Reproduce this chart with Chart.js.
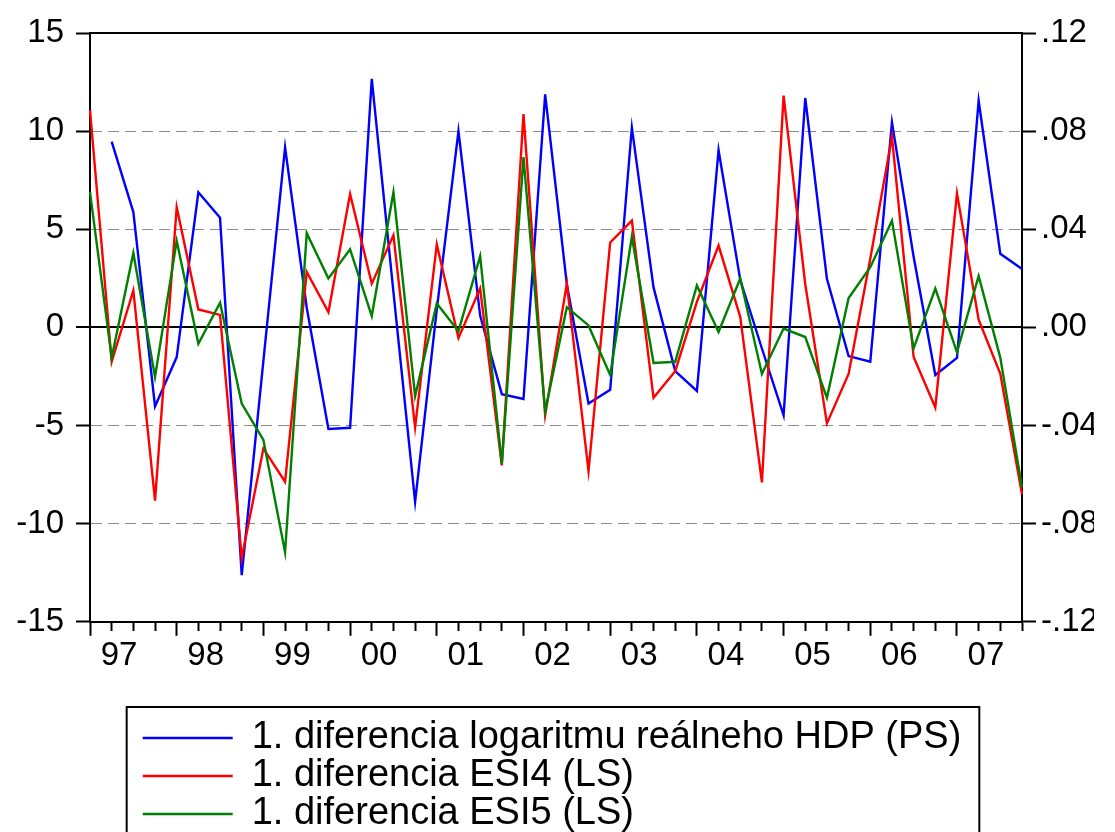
<!DOCTYPE html>
<html>
<head>
<meta charset="utf-8">
<script src="https://cdn.jsdelivr.net/npm/chart.js@4"></script>
<style>
html,body{margin:0;padding:0;background:#ffffff;overflow:hidden;}
#wrap{width:1115px;height:832px;position:relative;overflow:hidden;}
canvas{display:block;}
</style>
</head>
<body>
<div id="wrap"><canvas id="c" width="1115" height="832"></canvas></div>
<script>
// ---- data ----
const quarters = [
  '1997Q1','1997Q2','1997Q3','1997Q4','1998Q1','1998Q2','1998Q3','1998Q4',
  '1999Q1','1999Q2','1999Q3','1999Q4','2000Q1','2000Q2','2000Q3','2000Q4',
  '2001Q1','2001Q2','2001Q3','2001Q4','2002Q1','2002Q2','2002Q3','2002Q4',
  '2003Q1','2003Q2','2003Q3','2003Q4','2004Q1','2004Q2','2004Q3','2004Q4',
  '2005Q1','2005Q2','2005Q3','2005Q4','2006Q1','2006Q2','2006Q3','2006Q4',
  '2007Q1','2007Q2','2007Q3','2007Q4'
];
const yearLabels = ['97','98','99','00','01','02','03','04','05','06','07'];

// 1. diferencia logaritmu reálneho HDP (right axis)
const hdpDiff = [
  null, 0.0757, 0.0470, -0.0322, -0.0121, 0.0551, 0.0447, -0.1010,
  -0.0136, 0.0734, 0.0080, -0.0414, -0.0409, 0.1013, 0.0144, -0.0711,
  0.0072, 0.0800, 0.0048, -0.0272, -0.0292, 0.0950, 0.0176, -0.0310,
  -0.0254, 0.0815, 0.0163, -0.0178, -0.0259, 0.0722, 0.0194, -0.0086,
  -0.0358, 0.0935, 0.0198, -0.0117, -0.0140, 0.0836, 0.0288, -0.0194,
  -0.0124, 0.0924, 0.0300, 0.0238
];
// 1. diferencia ESI4 (left axis)
const esi4Diff = [
  11.07, -1.75, 1.88, -8.83, 6.12, 0.91, 0.64, -11.75,
  -6.17, -7.86, 2.82, 0.78, 6.80, 2.23, 4.70, -5.09,
  4.23, -0.54, 1.98, -7.03, 10.87, -4.47, 2.23, -7.32,
  4.33, 5.44, -3.59, -2.23, 1.30, 4.17, 0.54, -7.90,
  11.81, 2.20, -4.89, -2.37, 3.50, 9.71, -1.51, -4.08,
  6.83, 0.39, -2.37, -8.50
];
// 1. diferencia ESI5 (left axis)
const esi5Diff = [
  6.89, -1.55, 3.79, -2.52, 4.41, -0.83, 1.26, -3.88,
  -5.73, -11.46, 4.80, 2.49, 3.98, 0.58, 6.89, -3.50,
  1.22, -0.19, 3.63, -6.95, 8.68, -4.27, 1.03, 0.10,
  -2.43, 4.62, -1.81, -1.75, 2.14, -0.23, 2.49, -2.37,
  -0.06, -0.49, -3.59, 1.50, 3.07, 5.44, -1.07, 1.98,
  -1.26, 2.62, -1.55, -8.16
];
const seriesNames = [
  '1. diferencia logaritmu reálneho HDP (PS)',
  '1. diferencia ESI4 (LS)',
  '1. diferencia ESI5 (LS)'
];

// ---- styling ----
const FONT = "Arial, 'Liberation Sans', sans-serif";
const TICK_SIZE = 33;
const LEGEND_SIZE = 38;
const LINE_W = 2.4;

// pad the shorter legend entries with trailing spaces so each entry sits on its own row
const mctx = document.createElement('canvas').getContext('2d');
mctx.font = LEGEND_SIZE + 'px ' + FONT;
function padToWidth(text, target) {
  let s = text;
  while (mctx.measureText(s + ' ').width <= target + 3) s += ' ';
  return s;
}
const firstW = mctx.measureText(seriesNames[0]).width;
const legendLabels = seriesNames.map((t, i) => i === 0 ? t : padToWidth(t, firstW));

function fmtRight(v) {
  const s = (Math.round(v * 100) / 100).toFixed(2);
  return s.replace(/^(-?)0\./, '$1.');
}

const framePlugin = {
  id: 'frame',
  afterDatasetsDraw(chart) {
    const {ctx, chartArea: a} = chart;
    ctx.save();
    ctx.strokeStyle = '#000';
    ctx.lineWidth = 2;
    ctx.beginPath();
    ctx.moveTo(a.left - 1, a.top);
    ctx.lineTo(a.right + 1, a.top);
    ctx.stroke();
    ctx.restore();
  },
  afterDraw(chart) {
    const lg = chart.legend;
    if (!lg || !lg.legendHitBoxes || !lg.legendHitBoxes.length) return;
    const h = lg.legendHitBoxes[0];
    const ctx = chart.ctx;
    const left = h.left - 16;
    const right = h.left + h.width + 18;
    const top = h.top - 12;
    ctx.save();
    ctx.strokeStyle = '#000';
    ctx.lineWidth = 2;
    ctx.strokeRect(left, top, right - left, 900 - top);
    ctx.restore();
  }
};

const ctx = document.getElementById('c').getContext('2d');
new Chart(ctx, {
  type: 'line',
  data: {
    labels: quarters,
    datasets: [
      { label: legendLabels[0], data: hdpDiff, yAxisID: 'y2', borderColor: '#0000ff', backgroundColor: '#0000ff',
        borderWidth: LINE_W, pointRadius: 0, tension: 0, order: 3, spanGaps: false },
      { label: legendLabels[1], data: esi4Diff, yAxisID: 'y', borderColor: '#ff0000', backgroundColor: '#ff0000',
        borderWidth: LINE_W, pointRadius: 0, tension: 0, order: 2 },
      { label: legendLabels[2], data: esi5Diff, yAxisID: 'y', borderColor: '#008000', backgroundColor: '#008000',
        borderWidth: LINE_W, pointRadius: 0, tension: 0, order: 1 }
    ]
  },
  options: {
    responsive: false,
    animation: false,
    devicePixelRatio: 1,
    layout: { padding: { left: 10, right: 21, top: 33, bottom: -11 } },
    plugins: {
      tooltip: { enabled: false },
      legend: {
        position: 'bottom',
        align: 'center',
        title: { display: true, text: '', font: { size: 1 }, padding: { top: 40, bottom: 0 } },
        labels: {
          usePointStyle: true,
          pointStyle: 'line',
          pointStyleWidth: 90,
          padding: 0,
          color: '#000',
          font: { family: FONT, size: LEGEND_SIZE },
          sort: (a, b) => a.datasetIndex - b.datasetIndex
        }
      }
    },
    scales: {
      x: {
        type: 'category',
        offset: false,
        afterFit: (s) => { s.height = 56; },
        grid: {
          display: true,
          drawOnChartArea: false,
          drawTicks: true,
          tickLength: 14,
          tickWidth: 2,
          tickColor: '#000',
          tickBorderDash: (c) => (c.index % 4 === 0 ? [] : [8, 40])
        },
        border: { display: true, color: '#000', width: 2 },
        ticks: {
          autoSkip: false,
          maxRotation: 0,
          minRotation: 0,
          labelOffset: 29,
          padding: 0,
          color: '#000',
          font: { family: FONT, size: TICK_SIZE },
          callback: (v, i) => (i % 4 === 0 ? yearLabels[i / 4] : '')
        }
      },
      y: {
        position: 'left',
        min: -15,
        max: 15,
        afterFit: (s) => { s.width = 80; },
        ticks: { stepSize: 5, padding: 12, color: '#000', font: { family: FONT, size: TICK_SIZE } },
        grid: {
          drawOnChartArea: true,
          color: (c) => {
            if (!c.tick) return '#888';
            if (c.tick.value === 0) return '#000';
            if (Math.abs(c.tick.value) === 15) return 'rgba(0,0,0,0)';
            return '#8c8c8c';
          },
          lineWidth: (c) => (c.tick && c.tick.value === 0 ? 2 : 1),
          tickLength: 14,
          tickWidth: 2,
          tickColor: '#000',
          tickBorderDash: []
        },
        border: {
          display: true, color: '#000', width: 2,
          dash: (c) => (c.tick ? (c.tick.value === 0 ? [] : [11, 6]) : [])
        }
      },
      y2: {
        position: 'right',
        min: -0.12,
        max: 0.12,
        afterFit: (s) => { s.width = 72; },
        ticks: { stepSize: 0.04, padding: 5, color: '#000', font: { family: FONT, size: TICK_SIZE }, callback: (v) => fmtRight(v) },
        grid: { drawOnChartArea: false, tickLength: 14, tickWidth: 2, tickColor: '#000' },
        border: { display: true, color: '#000', width: 2 }
      }
    }
  },
  plugins: [framePlugin]
});
</script>
</body>
</html>
